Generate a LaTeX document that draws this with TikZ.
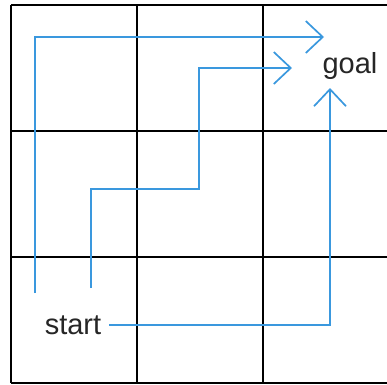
\documentclass[tikz,border=0pt]{standalone}
\usepackage{fontspec}
\setmainfont{Liberation Sans}
\usepackage{tikz}
\usetikzlibrary{arrows.meta}
\definecolor{route}{RGB}{58,152,222}

\begin{document}
\begin{tikzpicture}[x=1pt, y=-1pt,
		gridline/.style={draw=black, line width=1.8pt},
		tag/.style={font=\fontsize{29}{34}\selectfont, text=black!85, inner sep=8pt},
		routeline/.style={draw=route, line width=1.7pt},
		arr/.style={routeline, -{Straight Barb[length=17pt, width=32pt, line width=1.7pt]}}
		]
		\useasboundingbox (0,0) rectangle (387,384);
		
		\foreach \x in {11, 137, 263}
		\draw[gridline] (\x,5) -- (\x,383);
		\foreach \y in {5, 131, 257, 383}
		\draw[gridline] (11,\y) -- (387,\y);
		
		\node[tag] (goal) at (350,66) {goal};
		\node[tag] (start) at (73,325) {start};
		
		\coordinate (s1) at (35,293);
		\coordinate (g1) at (324,37);
		\coordinate (s2) at (91,288);
		\coordinate (k2) at (199,189);
		\coordinate (g2) at (292,68);
		\coordinate (g3) at (330,88);
		
		\draw[arr] (s1) |- (g1);
		\draw[arr] (s2) |- (k2) |- (g2);
		\draw[arr] (start.east) -| (g3);
	\end{tikzpicture}
\end{document}
